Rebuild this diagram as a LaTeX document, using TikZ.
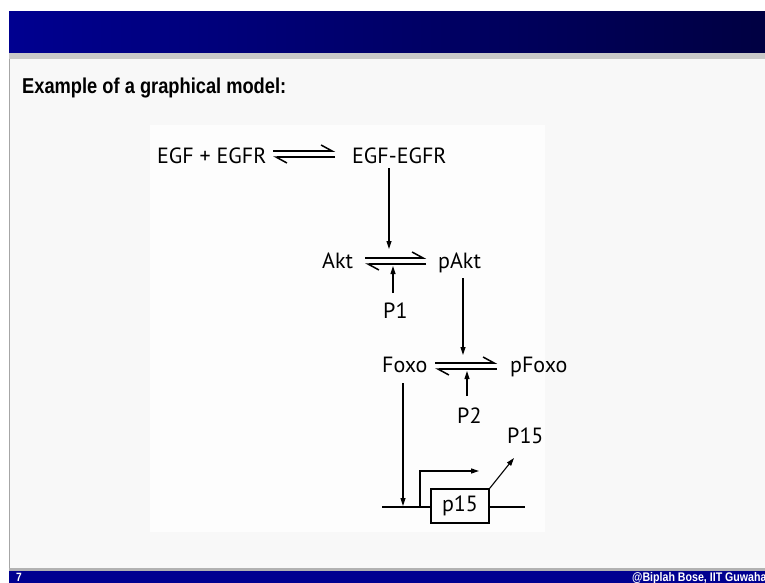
\documentclass[tikz,border=0pt]{standalone}
\usepackage{fontspec}
\usetikzlibrary{arrows.meta,calc}
\newfontfamily\diagfont{PT Sans}
\newfontfamily\titlefont[FakeStretch=0.85]{Liberation Sans}
\definecolor{barleft}{RGB}{0,0,144}
\definecolor{barright}{RGB}{0,0,66}
\definecolor{slidebg}{RGB}{248,248,248}
\definecolor{figbg}{RGB}{253,253,253}
\definecolor{shadowgray}{RGB}{200,200,200}
\begin{document}
\begin{tikzpicture}[x=1pt,y=-1pt,
  lbl/.style={font=\diagfont\fontsize{22}{24}\selectfont, inner sep=0pt, anchor=base west},
  harp/.style={line width=1.5pt, -{Straight Barb[left,length=11pt,width=12pt,line width=1.5pt]}},
  act/.style={line width=1.1pt, -{Triangle[length=8pt,width=5pt]}},
  wire/.style={line width=1.4pt}
]
\useasboundingbox (0,0) rectangle (765,583);
% slide frame
\fill[white] (0,0) rectangle (765,583);
\fill[slidebg] (9,53) rectangle (765,572);
\shade[left color=barleft,right color=barright] (9,12) rectangle (765,53);
\fill[shadowgray] (9,53) rectangle (765,59);
\draw[gray!70,line width=0.8pt] (9.4,59) -- (9.4,569);
\fill[gray!60] (9,568) rectangle (765,571);
\fill[barleft] (9,571) rectangle (765,583);
\node[font=\titlefont\bfseries\fontsize{21.5}{24}\selectfont, inner sep=0pt, anchor=base west] (title) at (22,94) {Example of a graphical model:};
\node[font=\titlefont\bfseries\fontsize{12}{14}\selectfont, text=white, inner sep=0pt, anchor=base west] (pagenum) at (16,581) {7};
\node[font=\titlefont\bfseries\fontsize{12.5}{14}\selectfont, text=white, inner sep=0pt, anchor=base west] (credit) at (632,581) {@Biplah Bose, IIT Guwahati};

% diagram area
\fill[figbg] (150,125) rectangle (545,532);

% species
\node[lbl] (egf) at (157,163) {EGF + EGFR};
\node[lbl] (egfr) at (352,163) {EGF-EGFR};
\node[lbl] (akt) at (322,268) {Akt};
\node[lbl] (pakt) at (438,268) {pAkt};
\node[lbl] (p1) at (383,318) {P1};
\node[lbl] (foxo) at (382,372) {Foxo};
\node[lbl] (pfoxo) at (510,372) {pFoxo};
\node[lbl] (p2) at (457,423) {P2};
\node[lbl] (p15prot) at (507,443) {P15};

% reversible reactions
\coordinate (r1a) at (273,151); \coordinate (r1b) at (335,151);
\coordinate (r1c) at (273,157); \coordinate (r1d) at (335,157);
\draw[harp] (r1a) -- (r1b);
\draw[harp] (r1d) -- (r1c);

\coordinate (r2a) at (365,258); \coordinate (r2b) at (426,258);
\coordinate (r2c) at (365,264); \coordinate (r2d) at (426,264);
\draw[harp] (r2a) -- (r2b);
\draw[harp] (r2d) -- (r2c);

\coordinate (r3a) at (435,363); \coordinate (r3b) at (497,363);
\coordinate (r3c) at (435,369); \coordinate (r3d) at (497,369);
\draw[harp] (r3a) -- (r3b);
\draw[harp] (r3d) -- (r3c);

% activations
\draw[act] (egfr.south -| 389,0) ++(0,5) -- (389,249);
\draw[act] (393,293) -- (393,266);
\draw[act] (463,278) -- (463,355);
\draw[act] (467,396) -- (467,371);
\draw[act] (403,383) -- (403,506);

% gene
\node[draw, line width=1.4pt, minimum width=58pt, minimum height=34pt, inner sep=0pt, font=\diagfont\fontsize{22}{24}\selectfont] (gene) at (460,506) {p15};
\coordinate (wl) at (382,507);
\coordinate (wr) at (525,507);
\draw[wire] (wl) -- (gene.west |- wl);
\draw[wire] (gene.east |- wr) -- (wr);
\draw[wire, -{Triangle[length=8pt,width=5pt]}] (420,507) -- (420,471) -- (479,471);
\draw[act] (gene.north east) -- (514,458);
\end{tikzpicture}
\end{document}
